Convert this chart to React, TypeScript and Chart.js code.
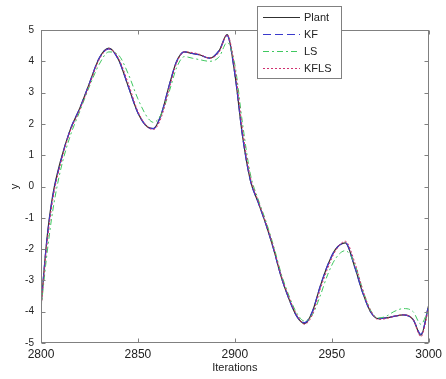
import React, { useEffect, useRef } from "react";
import { Chart, registerables } from "chart.js";

Chart.register(...registerables);

const iterations = [2800, 2803, 2806, 2810, 2815, 2820, 2825, 2830, 2835, 2840, 2845, 2850, 2855, 2858, 2862, 2866, 2870, 2874, 2878, 2882, 2887, 2892, 2896, 2900, 2904, 2908, 2912, 2916, 2920, 2924, 2928, 2932, 2936, 2940, 2944, 2948, 2952, 2957, 2962, 2966, 2970, 2974, 2978, 2982, 2987, 2992, 2996, 3000];

const plant = [-3.85, -1.7, -0.3, 0.8, 1.8, 2.5, 3.3, 4.1, 4.42, 4.05, 3.2, 2.35, 1.9, 1.85, 2.3, 3.2, 4.0, 4.3, 4.25, 4.2, 4.1, 4.35, 4.85, 3.6, 1.6, 0.2, -0.5, -1.2, -2.0, -2.9, -3.6, -4.15, -4.38, -4.0, -3.2, -2.5, -2.0, -1.8, -2.6, -3.4, -4.0, -4.22, -4.2, -4.15, -4.1, -4.25, -4.75, -3.8];

const kf = [-3.8, -1.75, -0.35, 0.75, 1.8, 2.5, 3.3, 4.1, 4.4, 4.05, 3.2, 2.35, 1.9, 1.85, 2.3, 3.2, 4.0, 4.3, 4.25, 4.2, 4.1, 4.35, 4.82, 3.6, 1.6, 0.2, -0.5, -1.2, -2.0, -2.9, -3.6, -4.15, -4.35, -4.0, -3.2, -2.5, -2.0, -1.8, -2.6, -3.4, -4.0, -4.22, -4.2, -4.15, -4.1, -4.25, -4.72, -3.8];

const ls = [-3.9, -2.2, -0.8, 0.5, 1.6, 2.4, 3.2, 3.9, 4.3, 4.2, 3.6, 2.8, 2.2, 2.05, 2.3, 3.0, 3.8, 4.15, 4.1, 4.05, 4.0, 4.15, 4.6, 3.9, 2.0, 0.4, -0.4, -1.1, -1.9, -2.8, -3.5, -4.05, -4.3, -4.1, -3.5, -2.8, -2.3, -2.05, -2.5, -3.3, -3.95, -4.2, -4.15, -4.0, -3.9, -4.0, -4.4, -3.9];

const kfls = [-3.9, -1.9, -0.45, 0.7, 1.75, 2.45, 3.25, 4.05, 4.4, 4.1, 3.3, 2.4, 1.9, 1.82, 2.2, 3.1, 3.95, 4.3, 4.28, 4.22, 4.1, 4.3, 4.85, 3.8, 1.8, 0.3, -0.45, -1.15, -1.95, -2.85, -3.55, -4.1, -4.4, -4.1, -3.3, -2.6, -2.05, -1.75, -2.45, -3.3, -3.95, -4.25, -4.22, -4.15, -4.1, -4.25, -4.8, -3.9];

const seriesNames = ["Plant", "KF", "LS", "KFLS"];
const FONT = '"Liberation Sans", Arial, Helvetica, sans-serif';

const framePlugin = {
  id: "matlabFrame",
  afterDraw(chart: any) {
    const { ctx, chartArea: a, scales } = chart;
    ctx.save();
    ctx.strokeStyle = "#808080";
    ctx.lineWidth = 1;
    const L = Math.round(a.left) + 0.5;
    const R = Math.round(a.right) - 0.5;
    const T = Math.round(a.top) + 0.5;
    const B = Math.round(a.bottom) - 0.5;
    ctx.strokeRect(L, T, R - L, B - T);
    const tl = 4;
    ctx.beginPath();
    scales.x.ticks.forEach((t: any) => {
      const px = Math.round(scales.x.getPixelForValue(t.value)) + 0.5;
      ctx.moveTo(px, B);
      ctx.lineTo(px, B - tl);
      ctx.moveTo(px, T);
      ctx.lineTo(px, T + tl);
    });
    scales.y.ticks.forEach((t: any) => {
      const py = Math.round(scales.y.getPixelForValue(t.value)) + 0.5;
      ctx.moveTo(L, py);
      ctx.lineTo(L + tl, py);
      ctx.moveTo(R, py);
      ctx.lineTo(R - tl, py);
    });
    ctx.stroke();

    // legend box
    const bx = 257.5, by = 6.5, bw = 84, bh = 72;
    ctx.fillStyle = "#ffffff";
    ctx.fillRect(bx, by, bw, bh);
    ctx.strokeStyle = "#808080";
    ctx.strokeRect(bx, by, bw, bh);
    const rows = [17, 34, 51, 68];
    chart.data.datasets.forEach((ds: any, i: number) => {
      const y = rows[i] + 0.5;
      ctx.strokeStyle = ds.borderColor;
      ctx.lineWidth = ds.borderWidth;
      ctx.setLineDash(ds.borderDash || []);
      ctx.beginPath();
      ctx.moveTo(263, y);
      ctx.lineTo(300, y);
      ctx.stroke();
      ctx.setLineDash([]);
      ctx.fillStyle = "#222";
      ctx.font = `11px ${FONT}`;
      ctx.textBaseline = "middle";
      ctx.textAlign = "left";
      ctx.fillText(ds.label, 304, rows[i] + 1);
    });
    ctx.restore();
  },
};

export default function App() {
  const ref = useRef<HTMLCanvasElement | null>(null);
  useEffect(() => {
    if (!ref.current) return;
    const mk = (vals: number[]) => iterations.map((x, i) => ({ x, y: vals[i] }));
    const chart = new Chart(ref.current, {
      type: "line",
      data: {
        datasets: [
          { label: seriesNames[0], data: mk(plant), borderColor: "#303030", borderWidth: 1.2, pointRadius: 0, cubicInterpolationMode: "monotone", order: 4 },
          { label: seriesNames[1], data: mk(kf), borderColor: "#3a3acc", borderWidth: 1.2, borderDash: [8, 4], pointRadius: 0, cubicInterpolationMode: "monotone", order: 3 },
          { label: seriesNames[2], data: mk(ls), borderColor: "#40c860", borderWidth: 1, borderDash: [6, 3, 2, 3], pointRadius: 0, cubicInterpolationMode: "monotone", order: 2 },
          { label: seriesNames[3], data: mk(kfls), borderColor: "#d03070", borderWidth: 1, borderDash: [2, 2], pointRadius: 0, cubicInterpolationMode: "monotone", order: 1 },
        ],
      } as any,
      options: {
        animation: false,
        responsive: true,
        maintainAspectRatio: false,
        layout: { padding: { top: 30, right: 10, left: 0, bottom: 0 } },
        plugins: { legend: { display: false }, tooltip: { enabled: false } },
        scales: {
          x: {
            type: "linear",
            min: 2800,
            max: 3000,
            grid: { display: false, drawTicks: false },
            border: { display: false },
            ticks: { stepSize: 50, padding: 4, color: "#222", font: { size: 12, family: FONT }, maxRotation: 0, callback: (v: any) => String(v) },
            title: { display: true, text: "Iterations", color: "#222", font: { size: 11, family: FONT }, padding: { top: 0, bottom: 4 } },
            afterFit: (s: any) => { s.height = 36; },
          },
          y: {
            min: -5,
            max: 5,
            grid: { display: false, drawTicks: false },
            border: { display: false },
            ticks: { stepSize: 1, padding: 7, color: "#222", font: { size: 10, family: FONT } },
            title: { display: true, text: "y", color: "#222", font: { size: 11, family: FONT }, padding: { top: 8, bottom: 0 } },
            afterFit: (s: any) => { s.width = 41; },
          },
        },
      } as any,
      plugins: [framePlugin],
    });
    return () => chart.destroy();
  }, []);
  return (
    <div style={{ position: "fixed", left: 0, top: 0, width: 446, height: 379, background: "#fff" }}>
      <canvas ref={ref} />
    </div>
  );
}
